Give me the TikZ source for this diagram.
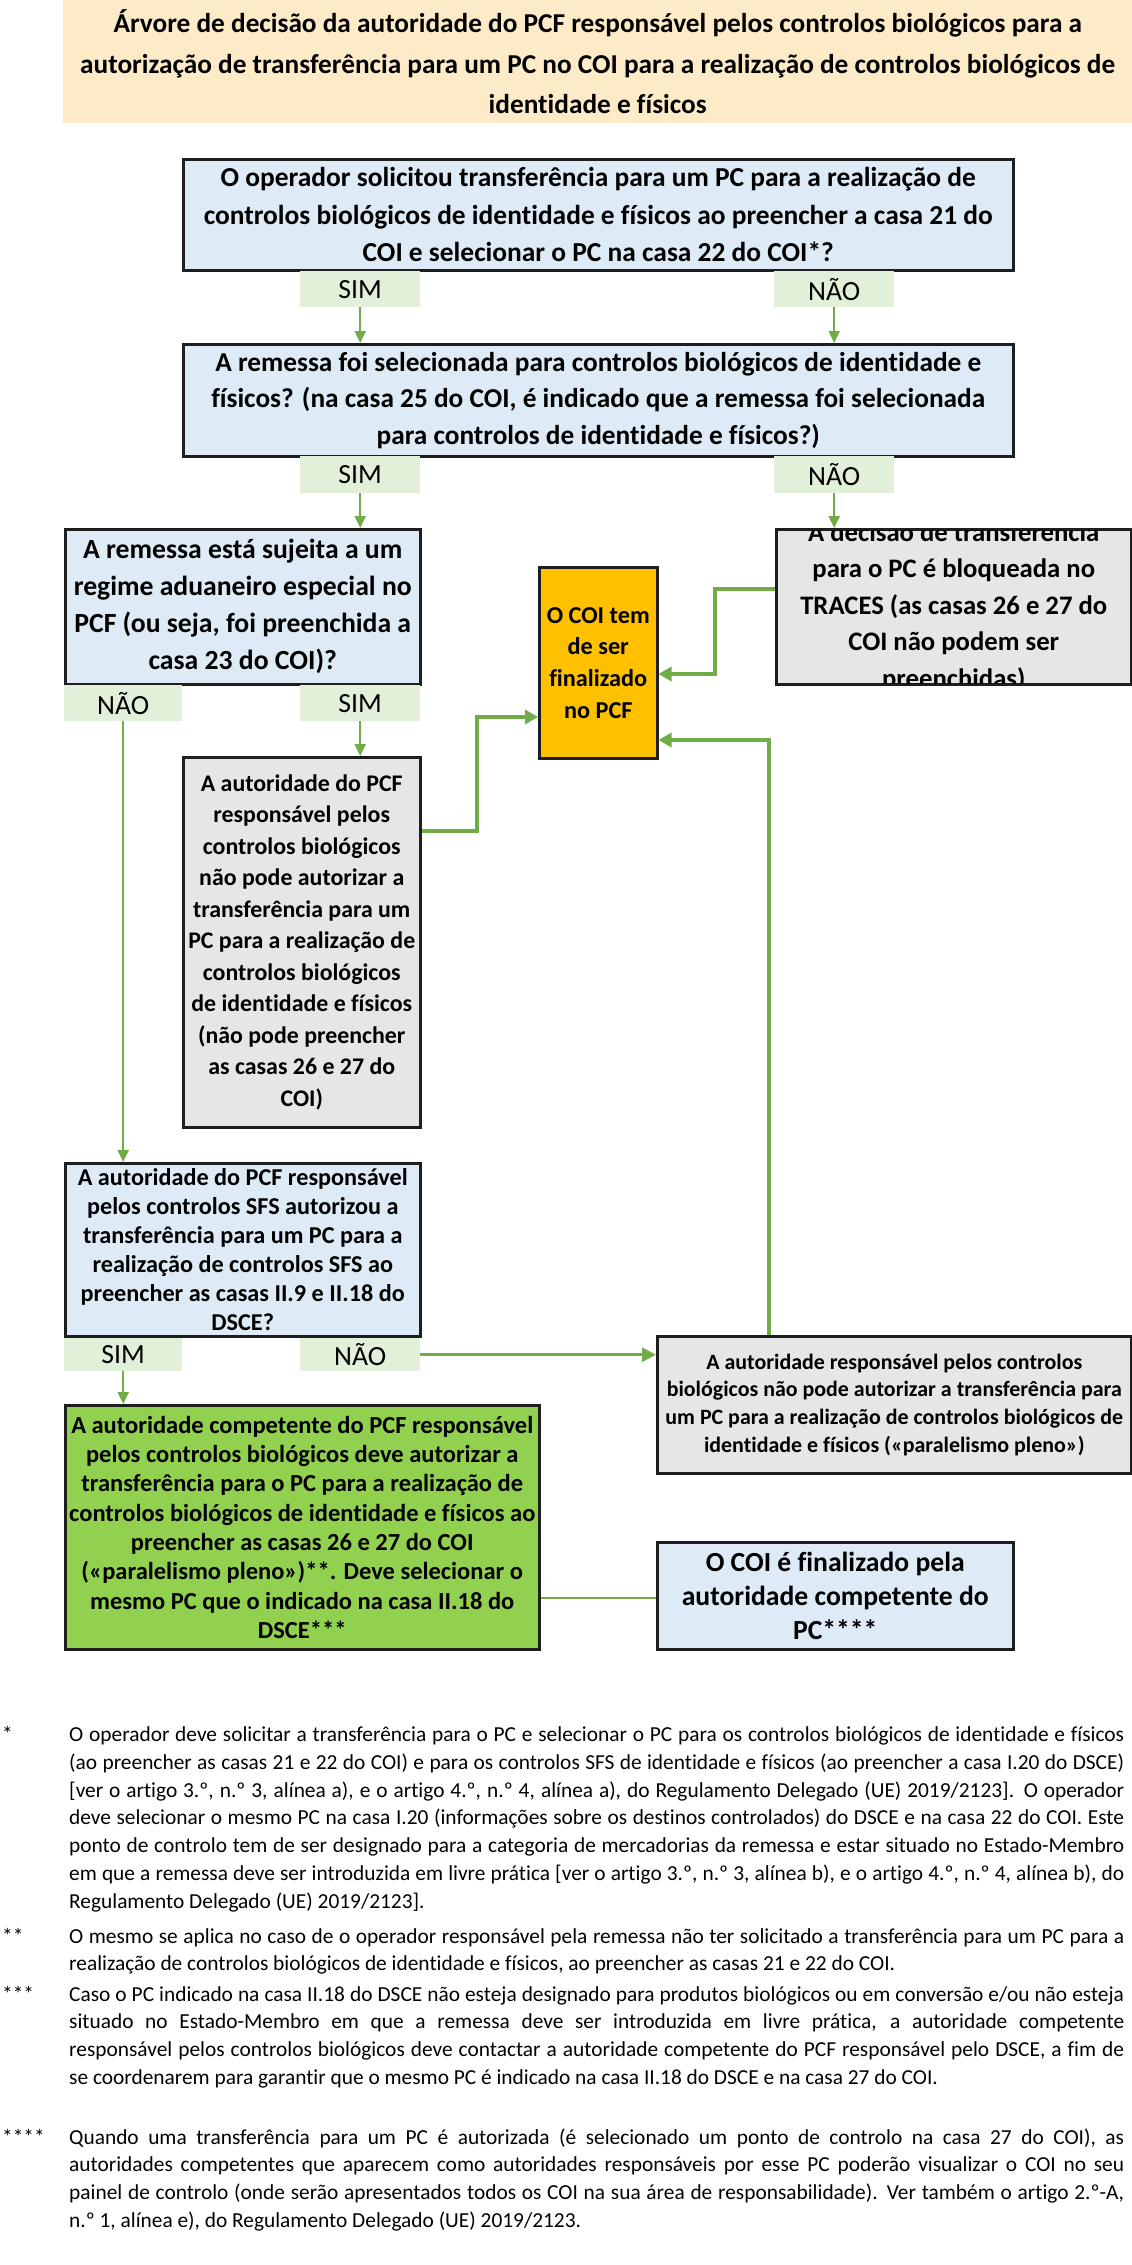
\documentclass[tikz,border=0pt]{standalone}
\usepackage{fontspec}
\setmainfont{Carlito}[Ligatures={CommonOff}]
\usetikzlibrary{arrows.meta,calc}
\definecolor{titlebg}{HTML}{FCEBC6}
\definecolor{bluebg}{HTML}{DEEBF7}
\definecolor{greybg}{HTML}{E7E6E6}
\definecolor{orangebg}{HTML}{FFC000}
\definecolor{greenbg}{HTML}{92D050}
\definecolor{labelbg}{HTML}{E2F0D9}
\definecolor{arrowgreen}{HTML}{70AD47}
\definecolor{bordercol}{HTML}{1E1E1E}
\newlength\mw
\newcommand\fitsize[4]{\settowidth\mw{\fontsize{10pt}{12pt}\selectfont#3#4}\pgfmathsetmacro#1{#2/\mw*10}}
\newcommand\JL[1]{\hbox to\hsize{#1}}
\newcommand\fT{\fontsize{\szT}{40.5}\selectfont\bfseries}
\newcommand\fA{\fontsize{\szA}{37.5}\selectfont\bfseries}
\newcommand\fB{\fontsize{\szB}{36.5}\selectfont\bfseries}
\newcommand\fC{\fontsize{\szC}{37}\selectfont\bfseries}
\newcommand\fD{\fontsize{\szD}{36.5}\selectfont\bfseries}
\newcommand\fO{\fontsize{\szO}{31.7}\selectfont\bfseries}
\newcommand\fE{\fontsize{\szE}{31.5}\selectfont\bfseries}
\newcommand\fF{\fontsize{\szF}{29}\selectfont\bfseries}
\newcommand\fG{\fontsize{\szG}{27.7}\selectfont\bfseries}
\newcommand\fH{\fontsize{\szH}{29.3}\selectfont\bfseries}
\newcommand\fI{\fontsize{\szI}{34}\selectfont\bfseries}
\newcommand\fL{\fontsize{\szL}{\szL}\selectfont}
\newcommand\fN{\fontsize{\szN}{27.8}\selectfont}
\newcommand\fnsetup{\hsize=1055pt\baselineskip=27.8pt\spaceskip=0.226em plus 0.4em minus 0.1em\relax}
\begin{document}
\fitsize\szT{1035}{\bfseries}{autorização de transferência para um PC no COI para a realização de controlos biológicos de}%
\fitsize\szA{789}{\bfseries}{controlos biológicos de identidade e físicos ao preencher a casa 21 do}%
\fitsize\szB{774}{\bfseries}{físicos? (na casa 25 do COI, é indicado que a remessa foi selecionada}%
\fitsize\szC{338}{\bfseries}{regime aduaneiro especial no}%
\fitsize\szD{307}{\bfseries}{TRACES (as casas 26 e 27 do}%
\fitsize\szO{103}{\bfseries}{O COI tem}%
\fitsize\szE{227}{\bfseries}{PC para a realização de}%
\fitsize\szF{330}{\bfseries}{A autoridade do PCF responsável}%
\fitsize\szG{455}{\bfseries}{biológicos não pode autorizar a transferência para}%
\fitsize\szH{462}{\bfseries}{A autoridade competente do PCF responsável}%
\fitsize\szI{307}{\bfseries}{autoridade competente do}%
\fitsize\szL{52}{}{NÃO}%
\fitsize\szN{826}{}{realização de controlos biológicos de identidade e físicos, ao preencher as casas 21 e 22 do COI.}%
\begin{tikzpicture}[x=1pt,y=-1pt,
  box/.style={draw=bordercol,line width=2.5pt,inner sep=0pt,align=center,anchor=north west},
  lab/.style={fill=labelbg,inner sep=0pt,anchor=north west,font=\fL},
  thinarrow/.style={draw=arrowgreen,line width=2pt,-{Triangle[length=12pt,width=11pt]}},
  midarrow/.style={draw=arrowgreen,line width=2.6pt,-{Triangle[length=14pt,width=14pt]}},
  thickarrow/.style={draw=arrowgreen,line width=3.3pt,-{Triangle[length=13pt,width=14pt]}},
  link/.style={draw=arrowgreen,line width=2.6pt},
  fn/.style={inner sep=0pt,anchor=base west,font=\fN}]
\useasboundingbox (0,0) rectangle (1132,2265);
\fill[white] (0,0) rectangle (1132,2265);

% title
\node[fill=titlebg,inner sep=0pt,anchor=north west,minimum width=1069,minimum height=123,align=center,font=\fT] (title) at (63,0)
 {Árvore de decisão da autoridade do PCF responsável pelos controlos biológicos para a\\
  autorização de transferência para um PC no COI para a realização de controlos biológicos de\\
  identidade e físicos};

% boxes
\node[box,fill=bluebg,minimum width=830,minimum height=111,font=\fA] (box1) at (182,158)
 {O operador solicitou transferência para um PC para a realização de\\
  controlos biológicos de identidade e físicos ao preencher a casa 21 do\\
  COI e selecionar o PC na casa 22 do COI*?};
\node[lab,minimum width=120,minimum height=36] (sim1) at (300,271) {SIM};
\node[lab,minimum width=120,minimum height=36] (nao1) at (774,271) {NÃO};

\node[box,fill=bluebg,minimum width=830,minimum height=112,font=\fB] (box2) at (182,343)
 {A remessa foi selecionada para controlos biológicos de identidade e\\
  físicos? (na casa 25 do COI, é indicado que a remessa foi selecionada\\
  para controlos de identidade e físicos?)};
\node[lab,minimum width=120,minimum height=37] (sim2) at (300,456) {SIM};
\node[lab,minimum width=120,minimum height=37] (nao2) at (774,456) {NÃO};

\node[box,fill=bluebg,minimum width=355,minimum height=155,font=\fC] (box3) at (64,528)
 {A remessa está sujeita a um\\
  regime aduaneiro especial no\\
  PCF (ou seja, foi preenchida a\\
  casa 23 do COI)?};

\node[box,fill=greybg,minimum width=355,minimum height=155] (box4) at (775,528) {};
\begin{scope}
\clip ([xshift=2.5pt,yshift=-2.5pt]box4.north west) rectangle ([xshift=-2.5pt,yshift=2.5pt]box4.south east);
\node[inner sep=0pt,align=center,font=\fD] (box4text) at (box4.center)
 {A decisão de transferência\\
  para o PC é bloqueada no\\
  TRACES (as casas 26 e 27 do\\
  COI não podem ser\\
  preenchidas)};
\end{scope}

\node[box,fill=orangebg,minimum width=118,minimum height=191,font=\fO] (orange) at (538,566)
 {O COI tem\\ de ser\\ finalizado\\ no PCF};

\node[lab,minimum width=118,minimum height=36] (nao3) at (64,685) {NÃO};
\node[lab,minimum width=120,minimum height=36] (sim3) at (300,685) {SIM};

\node[box,fill=greybg,minimum width=237,minimum height=370,font=\fE] (box5) at (182,756)
 {A autoridade do PCF\\
  responsável pelos\\
  controlos biológicos\\
  não pode autorizar a\\
  transferência para um\\
  PC para a realização de\\
  controlos biológicos\\
  de identidade e físicos\\
  (não pode preencher\\
  as casas 26 e 27 do\\
  COI)};

\node[box,fill=bluebg,minimum width=355,minimum height=173,font=\fF] (box6) at (64,1162)
 {A autoridade do PCF responsável\\
  pelos controlos SFS autorizou a\\
  transferência para um PC para a\\
  realização de controlos SFS ao\\
  preencher as casas II.9 e II.18 do\\
  DSCE?};
\node[lab,minimum width=118,minimum height=33] (sim4) at (64,1338) {SIM};
\node[lab,minimum width=120,minimum height=33] (nao4) at (300,1338) {NÃO};

\node[box,fill=greybg,minimum width=474,minimum height=137,font=\fG] (box7) at (656,1335)
 {A autoridade responsável pelos controlos\\
  biológicos não pode autorizar a transferência para\\
  um PC para a realização de controlos biológicos de\\
  identidade e físicos («paralelismo pleno»)};

\node[box,fill=greenbg,minimum width=474,minimum height=244,font=\fH] (box8) at (64,1404)
 {A autoridade competente do PCF responsável\\
  pelos controlos biológicos deve autorizar a\\
  transferência para o PC para a realização de\\
  controlos biológicos de identidade e físicos ao\\
  preencher as casas 26 e 27 do COI\\
  («paralelismo pleno»)**. Deve selecionar o\\
  mesmo PC que o indicado na casa II.18 do\\
  DSCE***};

\node[box,fill=bluebg,minimum width=356,minimum height=107,font=\fI] (box9) at (656,1541)
 {O COI é finalizado pela\\
  autoridade competente do\\
  PC****};

% bend points
\coordinate (bA) at (715,589);
\coordinate (bB) at (715,674);
\coordinate (cA) at (477,831);
\coordinate (cB) at (477,717);
\coordinate (dA) at (769,740);
\coordinate (eA) at (600,1598);

% connectors
\draw[thinarrow] (sim1.south) -- (sim1.south |- box2.north);
\draw[thinarrow] (nao1.south) -- (nao1.south |- box2.north);
\draw[thinarrow] (sim2.south) -- (sim2.south |- box3.north);
\draw[thinarrow] (nao2.south) -- (nao2.south |- box4.north);
\draw[thinarrow] (sim3.south) -- (sim3.south |- box5.north);
\draw[thinarrow] (nao3.south) -- (nao3.south |- box6.north);
\draw[thinarrow] (sim4.south) -- (sim4.south |- box8.north);
\draw[midarrow] (nao4.east) -- (nao4.east -| box7.west);
\draw[thickarrow] (box4.west |- bA) -- (bA) -- (bB) -- (orange.east |- bB);
\draw[thickarrow] (box5.east |- cA) -- (cA) -- (cB) -- (orange.west |- cB);
\draw[thickarrow] (box7.north -| dA) -- (dA) -- (orange.east |- dA);
\draw[link] (box8.east |- eA) -- (box9.west |- eA);

% footnotes
\node[fn] (s1) at (2,1741.5) {*};
\node[fn] (fn1) at (69,1741.5) {\vtop{\fnsetup
 \JL{O operador deve solicitar a transferência para o PC e selecionar o PC para os controlos biológicos de identidade e físicos}
 \JL{(ao preencher as casas 21 e 22 do COI) e para os controlos SFS de identidade e físicos (ao preencher a casa I.20 do DSCE)}
 \JL{[ver o artigo 3.º, n.º 3, alínea a), e o artigo 4.º, n.º 4, alínea a), do Regulamento Delegado (UE) 2019/2123]. O operador}
 \JL{deve selecionar o mesmo PC na casa I.20 (informações sobre os destinos controlados) do DSCE e na casa 22 do COI. Este}
 \JL{ponto de controlo tem de ser designado para a categoria de mercadorias da remessa e estar situado no Estado-Membro}
 \JL{em que a remessa deve ser introduzida em livre prática [ver o artigo 3.º, n.º 3, alínea b), e o artigo 4.º, n.º 4, alínea b), do}
 \hbox{Regulamento Delegado (UE) 2019/2123].}}};

\node[fn] (s2) at (2,1943) {**};
\node[fn] (fn2) at (69,1943) {\vtop{\fnsetup
 \JL{O mesmo se aplica no caso de o operador responsável pela remessa não ter solicitado a transferência para um PC para a}
 \hbox{realização de controlos biológicos de identidade e físicos, ao preencher as casas 21 e 22 do COI.}}};

\node[fn] (s3) at (2,2001) {***};
\node[fn] (fn3) at (69,2001) {\vtop{\fnsetup
 \JL{Caso o PC indicado na casa II.18 do DSCE não esteja designado para produtos biológicos ou em conversão e/ou não esteja}
 \JL{situado no Estado-Membro em que a remessa deve ser introduzida em livre prática, a autoridade competente}
 \JL{responsável pelos controlos biológicos deve contactar a autoridade competente do PCF responsável pelo DSCE, a fim de}
 \hbox{se coordenarem para garantir que o mesmo PC é indicado na casa II.18 do DSCE e na casa 27 do COI.}}};

\node[fn] (s4) at (2,2144) {****};
\node[fn] (fn4) at (69,2144) {\vtop{\fnsetup
 \JL{Quando uma transferência para um PC é autorizada (é selecionado um ponto de controlo na casa 27 do COI), as}
 \JL{autoridades competentes que aparecem como autoridades responsáveis por esse PC poderão visualizar o COI no seu}
 \JL{painel de controlo (onde serão apresentados todos os COI na sua área de responsabilidade). Ver também o artigo 2.º-A,}
 \hbox{n.º 1, alínea e), do Regulamento Delegado (UE) 2019/2123.}}};
\end{tikzpicture}
\end{document}
